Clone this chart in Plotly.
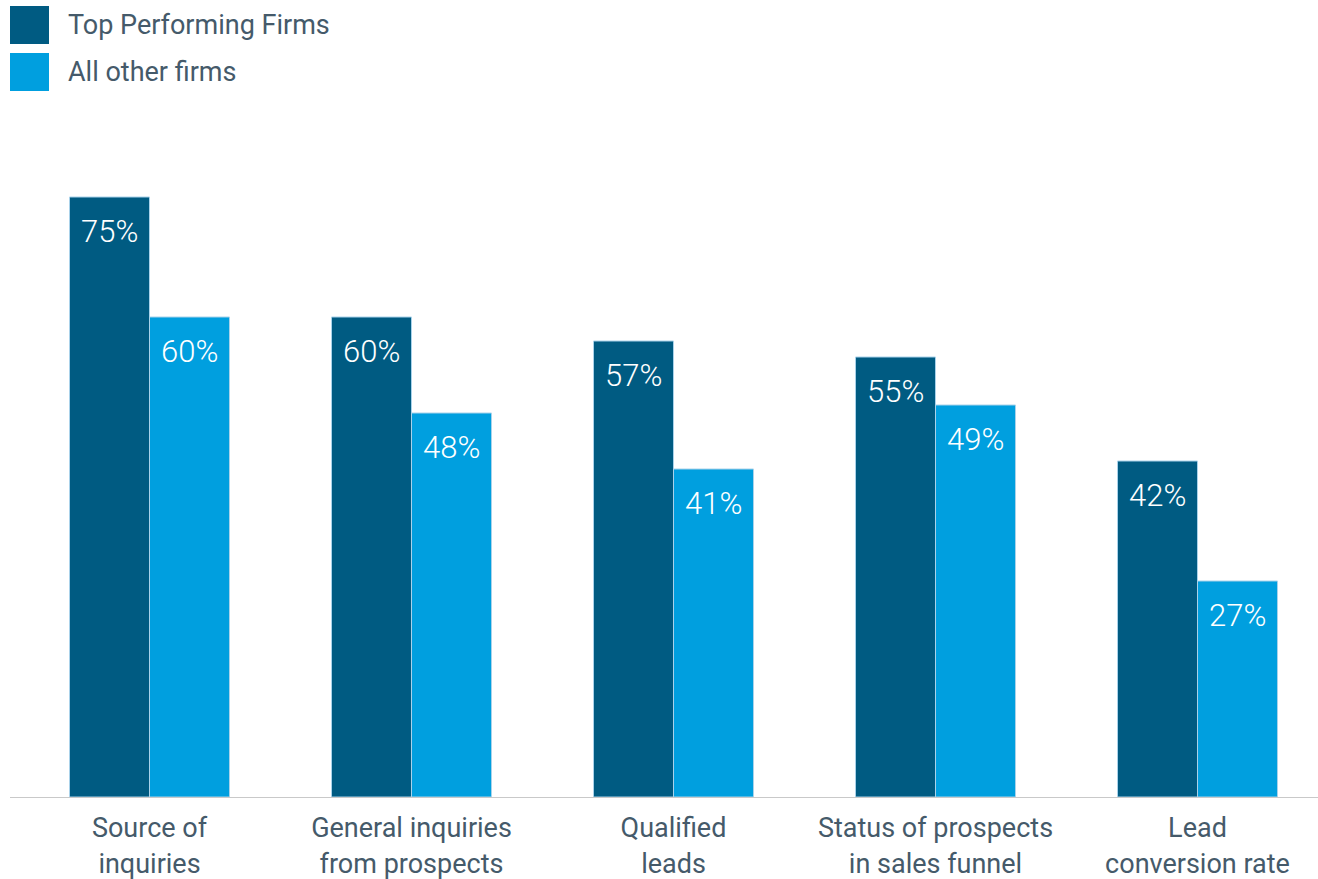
import plotly.graph_objects as go

categories = [
    "Source of<br>inquiries",
    "General inquiries<br>from prospects",
    "Qualified<br>leads",
    "Status of prospects<br>in sales funnel",
    "Lead<br>conversion rate",
]
top_firms = [75, 60, 57, 55, 42]
other_firms = [60, 48, 41, 49, 27]
series_names = ["Top Performing Firms", "All other firms"]

DARK = "#005b82"
LIGHT = "#009fdf"
TEXT = "#455a6a"
FONT = "Roboto"

W, H = 1318, 879
ML, MR, MT, MB = 10, 0, 100, 82
group_px = 262.0          # pixel spacing between category centres
first_center_px = 149.5   # pixel position of first category centre
bar_w = 80.0 / group_px   # bar width in axis units

x_idx = list(range(len(categories)))
x_lo = (ML - first_center_px) / group_px
x_hi = (W - MR - first_center_px) / group_px
y_hi = (H - MT - MB) / 8.0

fig = go.Figure()
for vals, color, name, off in [
    (top_firms, DARK, series_names[0], -bar_w),
    (other_firms, LIGHT, series_names[1], 0.0),
]:
    fig.add_trace(go.Bar(
        x=x_idx, y=vals, name=name, width=bar_w, offset=off,
        marker=dict(color=color, line=dict(color="#a9d2ea", width=1)),
        showlegend=False, hoverinfo="skip",
    ))
    for i, v in enumerate(vals):
        fig.add_annotation(
            x=i + off + bar_w / 2, y=v, xref="x", yref="y",
            text=f"{v}%", showarrow=False, yanchor="top", yshift=-14,
            font=dict(family=FONT, size=31, color="white", weight=300),
        )

# legend swatches and labels
for k, (name, color) in enumerate(zip(series_names, [DARK, LIGHT])):
    y0 = 6 + k * 47
    fig.add_shape(type="rect", xref="paper", yref="paper",
                  x0=(10 - ML) / (W - ML - MR), x1=(49 - ML) / (W - ML - MR),
                  y0=1 + (MT - y0) / (H - MT - MB), y1=1 + (MT - y0 - 38) / (H - MT - MB),
                  fillcolor=color, line=dict(width=0))
    fig.add_annotation(xref="paper", yref="paper",
                       x=(66 - ML) / (W - ML - MR), y=1 + (MT - y0 - 19) / (H - MT - MB),
                       xanchor="left", yanchor="middle", showarrow=False, text=name,
                       font=dict(family=FONT, size=27, color=TEXT))

fig.update_layout(
    width=W, height=H,
    margin=dict(l=ML, r=MR, t=MT, b=MB),
    paper_bgcolor="white", plot_bgcolor="white",
    showlegend=False,
    xaxis=dict(range=[x_lo, x_hi], tickvals=x_idx, ticktext=categories,
               showgrid=False, zeroline=False, showline=True, automargin=False,
               linecolor="#c9c9c9", linewidth=1, ticks="",
               tickfont=dict(family=FONT, size=27, color=TEXT), ticklabelstandoff=7),
    yaxis=dict(range=[0, y_hi], visible=False, showgrid=False, zeroline=False,
               automargin=False),
)

fig.write_html("out.html")
